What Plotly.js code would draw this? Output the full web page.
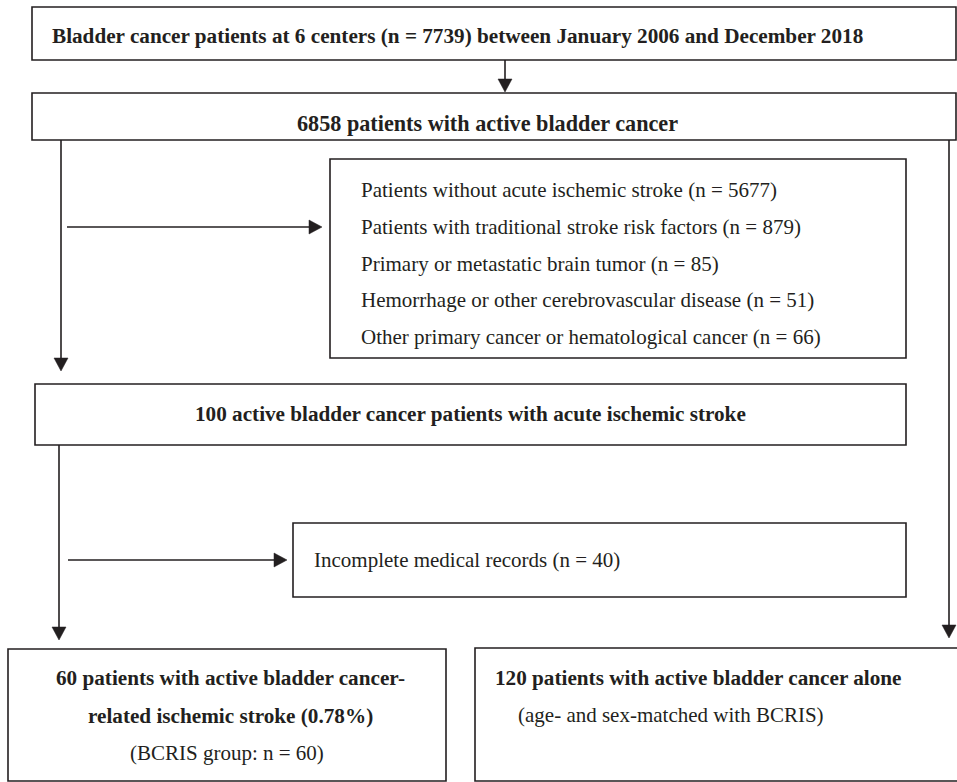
<!DOCTYPE html>
<html>
<head>
<meta charset="utf-8">
<script src="https://cdn.plot.ly/plotly-3.0.1.min.js"></script>
<style>html,body{margin:0;padding:0;background:#fff;}#chart{width:957px;height:782px;}</style>
</head>
<body>
<div id="chart"></div>
<script>
// ---- Flowchart text (data) ----
const titleText = "Bladder cancer patients at 6 centers (n = 7739) between January 2006 and December 2018";
const activeText = "6858 patients with active bladder cancer";
const exclusionLines = [
  "Patients without acute ischemic stroke (n = 5677)",
  "Patients with traditional stroke risk factors (n = 879)",
  "Primary or metastatic brain tumor (n = 85)",
  "Hemorrhage or other cerebrovascular disease (n = 51)",
  "Other primary cancer or hematological cancer (n = 66)"
];
const strokeText = "100 active bladder cancer patients with acute ischemic stroke";
const incompleteText = "Incomplete medical records (n = 40)";
const bcrisBold = ["60 patients with active bladder cancer-", "related ischemic stroke (0.78%)"];
const bcrisNote = "(BCRIS group: n = 60)";
const controlBold = "120 patients with active bladder cancer alone";
const controlNote = "(age- and sex-matched with BCRIS)";

// ---- Geometry (layout) ----
const INK = "#231f20";
const LW = 1.6;
const boxes = [
  {x0: 32, y0: 7, x1: 956, y1: 60},      // title
  {x0: 32, y0: 93, x1: 956, y1: 140},    // active
  {x0: 330, y0: 159, x1: 906, y1: 358},  // exclusions
  {x0: 35, y0: 384, x1: 906, y1: 445},   // stroke
  {x0: 293, y0: 523, x1: 906, y1: 597},  // incomplete
  {x0: 8, y0: 649, x1: 446, y1: 781},    // BCRIS
  {x0: 475, y0: 648, x1: 960, y1: 781}   // control
];
// arrows: [xStart, yStart, xEnd, yEnd]
const arrows = [
  [505, 60, 505, 92],
  [61, 140, 61, 371],
  [67, 227, 322, 227],
  [59, 445, 59, 640],
  [68, 560, 287, 560],
  [949, 140, 949, 638]
];

const shapes = [];
boxes.forEach(b => shapes.push({type: "rect", xref: "x", yref: "y", x0: b.x0, y0: b.y0, x1: b.x1, y1: b.y1,
  line: {color: INK, width: LW}, fillcolor: "rgba(0,0,0,0)"}));
const HL = 13, HW = 7;
arrows.forEach(a => {
  const [xs, ys, xe, ye] = a;
  const dx = xe - xs, dy = ye - ys, len = Math.hypot(dx, dy);
  const ux = dx / len, uy = dy / len;
  const bx = xe - ux * HL, by = ye - uy * HL;
  shapes.push({type: "line", xref: "x", yref: "y", x0: xs, y0: ys, x1: bx, y1: by, line: {color: INK, width: LW}});
  const px = -uy * HW, py = ux * HW;
  shapes.push({type: "path", xref: "x", yref: "y",
    path: `M${xe},${ye} L${bx + px},${by + py} L${bx - px},${by - py} Z`,
    fillcolor: INK, line: {color: INK, width: 0.5}});
});

const serif = "Liberation Serif, Times New Roman, serif";
function ann(text, x, y, size, bold, xanchor) {
  return {text: text, x: x, y: y, xref: "x", yref: "y", showarrow: false,
    xanchor: xanchor || "center", yanchor: "middle",
    font: {family: serif, size: size, color: INK, weight: bold ? "bold" : "normal"}};
}
const FS = 21.2;
const annotations = [];
annotations.push(ann(titleText, 50, 36, FS, true, "left"));
annotations.push(ann(activeText, 487, 123, 22.2, true));
exclusionLines.forEach((t, i) => annotations.push(ann(t, 359, 190 + i * 36.8, 21, false, "left")));
annotations.push(ann(strokeText, 470, 414, FS, true));
annotations.push(ann(incompleteText, 312, 560, 21, false, "left"));
bcrisBold.forEach((t, i) => annotations.push(ann(t, 230, 678 + i * 38, FS, true)));
annotations.push(ann(bcrisNote, 227, 753, 21, false));
annotations.push(ann(controlBold, 493, 678, FS, true, "left"));
annotations.push(ann(controlNote, 516, 715, 21, false, "left"));

const layout = {
  width: 957, height: 782,
  margin: {l: 0, r: 0, t: 0, b: 0},
  paper_bgcolor: "#fff", plot_bgcolor: "#fff",
  xaxis: {range: [0, 957], visible: false, fixedrange: true},
  yaxis: {range: [782, 0], visible: false, fixedrange: true},
  showlegend: false,
  shapes: shapes,
  annotations: annotations
};
Plotly.newPlot("chart", [], layout, {staticPlot: true, displayModeBar: false});
</script>
</body>
</html>
